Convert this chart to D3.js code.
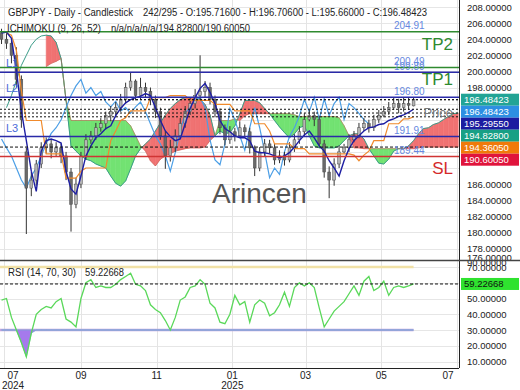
<!DOCTYPE html>
<html>
<head>
<meta charset="utf-8">
<title>GBPJPY Daily</title>
<script src="https://cdn.jsdelivr.net/npm/d3@7"></script>
<style>
  body { margin: 0; background: #ffffff; }
  svg { display: block; font-family: 'Liberation Sans', Arial, sans-serif; }
</style>
</head>
<body>
<svg id="chart" width="520" height="390"></svg>
<script>
// one bar every 4 calendar days
const firstDay = '2024-06-29';
const dayStep = 4;

const openPrices = [
  204.8, 204.0, 203.5, 202.0, 199.0, 190.0, 185.5, 186.5, 188.5, 190.5,
  191.0, 190.0, 190.5, 189.5, 187.5, 183.5, 186.0, 189.5, 191.5, 192.0,
  193.0, 193.5, 194.5, 195.0, 195.5, 196.5, 198.0, 198.8, 197.0, 198.0,
  197.5, 196.5, 195.0, 192.0, 189.5, 190.5, 192.0, 193.5, 195.0, 196.0,
  197.0, 197.5, 198.0, 196.5, 195.0, 193.0, 191.5, 192.5, 192.0, 193.0,
  192.5, 190.5, 188.0, 190.0, 191.0, 190.5, 189.0, 189.5, 189.0, 190.5,
  191.5, 192.5, 194.0, 194.5, 194.0, 191.0, 187.5, 186.5, 188.5, 190.0,
  190.5, 191.5, 192.0, 193.0, 193.5, 193.0, 194.0, 194.5, 195.0, 195.5,
  196.0, 195.5, 196.0, 195.716
];
const highPrices = [
  205.3, 204.8, 204.0, 203.0, 199.5, 190.5, 187.5, 189.0, 191.2, 191.8,
  191.6, 191.2, 191.0, 190.0, 188.0, 186.8, 190.0, 192.2, 192.6, 193.6,
  194.2, 195.0, 195.7, 196.2, 197.2, 198.6, 199.8, 199.0, 199.2, 198.6,
  198.0, 197.0, 195.5, 192.6, 191.5, 192.8, 194.2, 195.7, 196.8, 197.8,
  202.0, 198.8, 198.6, 197.0, 195.4, 193.4, 193.2, 193.0, 193.8, 193.4,
  193.0, 190.8, 190.6, 191.6, 191.5, 191.0, 190.2, 190.0, 191.2, 192.2,
  193.2, 194.8, 195.2, 195.0, 194.5, 191.5, 188.2, 189.2, 190.8, 191.0,
  192.2, 192.6, 193.6, 194.2, 194.0, 194.6, 195.2, 195.7, 196.2, 196.8,
  196.6, 196.7, 196.8, 196.706
];
const lowPrices = [
  203.4, 202.8, 201.0, 198.0, 193.0, 179.8, 184.5, 185.8, 188.0, 189.8,
  189.2, 189.5, 188.6, 186.5, 180.1, 183.0, 185.5, 189.0, 191.0, 191.5,
  192.5, 192.8, 193.8, 194.3, 195.0, 196.0, 197.6, 196.4, 196.5, 196.8,
  195.8, 194.2, 191.5, 187.9, 188.8, 190.0, 191.6, 193.0, 194.6, 195.4,
  196.4, 196.8, 195.9, 194.3, 192.2, 190.8, 191.0, 191.3, 191.8, 191.8,
  189.8, 187.0, 187.6, 189.5, 189.8, 188.4, 188.6, 188.3, 188.7, 190.0,
  191.0, 192.0, 193.8, 193.2, 190.5, 186.8, 184.25, 185.8, 188.0, 189.8,
  190.0, 191.2, 191.7, 192.6, 192.4, 192.6, 193.6, 194.3, 194.6, 195.2,
  194.8, 195.0, 195.2, 195.66
];
const closePrices = [
  204.0, 203.5, 202.0, 199.0, 194.0, 185.5, 186.5, 188.5, 190.5, 191.0,
  190.0, 190.5, 189.5, 187.5, 183.5, 186.0, 189.5, 191.5, 192.0, 193.0,
  193.5, 194.5, 195.0, 195.5, 196.5, 198.0, 198.8, 197.0, 198.0, 197.5,
  196.5, 195.0, 192.0, 189.5, 190.5, 192.0, 193.5, 195.0, 196.0, 197.0,
  197.5, 198.0, 196.5, 195.0, 193.0, 191.5, 192.5, 192.0, 193.0, 192.5,
  190.5, 188.0, 190.0, 191.0, 190.5, 189.0, 189.5, 189.0, 190.5, 191.5,
  192.5, 194.0, 194.5, 194.0, 191.0, 187.5, 186.5, 188.5, 190.0, 190.5,
  191.5, 192.0, 193.0, 193.5, 193.0, 194.0, 194.5, 195.0, 195.5, 196.0,
  195.5, 196.0, 195.8, 196.48423
];
const tenkan = [
  204.75, 204.9, 204.1, 200.1, 195.1, 191.4, 187.6, 185.1, 190.1, 191.4,
  191.6, 191.4, 191.1, 187.6, 185.4, 184.75, 187.0, 189.5, 190.75, 191.75,
  192.25, 192.9, 193.25, 194.5, 195.4, 196.1, 196.5, 196.75, 196.9, 197.25,
  197.0, 195.5, 193.9, 192.6, 191.9, 191.4, 191.6, 193.5, 195.4, 196.75,
  197.9, 198.5, 197.4, 196.0, 193.9, 192.9, 192.5, 192.0, 191.75, 191.75,
  191.4, 190.1, 189.9, 189.9, 189.75, 189.5, 189.25, 189.5, 189.9, 190.6,
  191.4, 192.1, 192.6, 191.75, 190.75, 190.1, 188.9, 188.0, 187.0, 188.9,
  190.4, 191.4, 192.0, 192.6, 193.0, 193.1, 193.4, 193.5, 193.9, 194.1,
  194.4, 194.6, 194.9, 195.2955
];
const kijun = [
  null, 204.75, 204.5, 202.6, 197.6, 193.9, 193.9, 193.9, 193.9, 189.75,
  189.75, 189.75, 189.75, 186.75, 186.75, 186.75, 187.6, 188.0, 188.0, 188.0,
  188.0, 188.0, 191.4, 192.6, 193.9, 194.25, 195.1, 195.1, 195.1, 195.1,
  196.75, 196.75, 196.75, 196.75, 197.0, 197.0, 197.0, 197.0, 196.4, 196.4,
  196.4, 196.4, 196.4, 195.9, 195.9, 195.9, 195.9, 195.1, 195.1, 195.1,
  195.1, 193.5, 193.5, 193.5, 192.6, 191.0, 191.0, 191.0, 191.0, 190.4,
  190.4, 190.4, 189.75, 189.75, 189.75, 189.75, 189.75, 189.75, 189.75, 189.75,
  189.75, 189.6, 188.9, 189.6, 190.1, 191.4, 191.4, 191.4, 193.5, 193.5,
  193.5, 194.1, 194.1, 194.3605
];
const chikou = [
  191.6, 190.5, 189.5, 188.0, 186.5, 185.5, 187.0, 188.0, 189.5, 191.0,
  192.3, 193.0, 194.0, 195.5, 197.0, 198.2, 199.0, 197.3, 198.0, 197.0,
  197.5, 196.2, 195.6, 196.3, 195.1, 195.5, 194.8, 195.6, 196.2, 195.0,
  193.5, 192.0, 191.0, 189.5, 187.6, 189.9, 192.6, 194.8, 195.6, 196.4,
  196.8, 195.5, 191.5, 189.0, 188.4, 191.0, 195.4, 194.0, 192.0, 190.2,
  193.0, 195.5, 193.0, 190.0, 186.8, 188.0, 187.2, 190.0, 191.9, 193.0,
  194.5, 196.5, 195.0, 196.8, 194.0, 196.6, 194.5, 196.0, 196.8, 194.0,
  196.0, 195.5, 194.8, 194.0, 193.5
];
const spanA = [
  null, 195.5, 197.0, 198.9, 200.75, 202.0, 203.25, 204.0, 204.4, 204.5,
  204.4, 203.6, 201.6, 196.4, 190.75, 190.1, 189.5, 189.1, 188.9, 188.5,
  188.25, 188.0, 187.0, 186.1, 185.75, 186.4, 187.9, 189.5, 190.4, 191.0,
  191.6, 192.6, 193.6, 194.6, 195.4, 196.0, 196.5, 196.75, 196.75, 196.75,
  196.5, 195.9, 194.6, 192.0, 192.6, 192.25, 192.4, 193.25, 194.75, 196.4,
  196.4, 196.4, 196.1, 195.4, 194.75, 193.9, 193.1, 192.4, 191.75, 192.25,
  193.0, 193.25, 192.0, 190.75, 190.5, 190.5, 190.5, 190.5, 190.75, 191.4,
  192.0, 192.25, 192.25, 191.6, 190.4, 189.5, 188.6, 188.5, 189.1, 190.1,
  190.4, 190.4, 190.75, 191.4, 192.25, 192.9, 193.0, 193.4, 193.6, 194.0,
  194.4, 194.75, 194.828
];
const spanB = [
  null, null, null, null, null, null, null, null, null, 200.6,
  201.0, 201.25, 201.6, 196.4, 193.9, 193.9, 193.9, 193.9, 193.9, 193.9,
  193.9, 193.9, 193.9, 193.9, 193.9, 193.9, 193.25, 192.0, 190.75, 190.1,
  188.9, 188.25, 189.1, 189.5, 189.75, 190.1, 190.25, 190.4, 190.5, 190.5,
  190.5, 190.6, 191.4, 192.0, 193.9, 193.9, 193.9, 194.1, 193.9, 194.5,
  194.75, 194.75, 194.75, 194.75, 194.75, 194.75, 194.75, 194.75, 194.75, 194.6,
  194.4, 194.4, 194.4, 194.4, 194.4, 194.4, 194.4, 194.4, 194.25, 193.25,
  192.0, 190.5, 190.5, 190.4, 190.4, 190.4, 190.4, 190.4, 190.4, 190.4,
  190.4, 190.4, 190.4, 190.4, 190.5, 190.6, 190.6, 190.6, 190.6, 190.6,
  190.6, 190.6, 190.6005
];
const rsi = [
  49, 50, 38, 30, 22, 13, 28, 40, 43, 45,
  44, 48, 50, 37, 35, 32, 50, 60, 62, 57,
  58, 57, 57, 59, 62, 64, 66, 59, 58, 55,
  46, 43, 41, 36, 30, 38, 49, 51, 57, 58,
  62, 59, 47, 44, 35, 34, 40, 52, 46, 48,
  35, 46, 49, 47, 39, 41, 46, 54, 45, 57,
  60, 58, 60, 57, 44, 32, 37, 42, 45, 48,
  53, 58, 52, 61, 64, 55, 57, 61, 52, 57,
  58, 57, 58, 59.22668
];

const levelNames = ['TP2', 'TP1', 'L1', 'L2', 'L3', 'SL'];
const levelValues = [204.91, 200.49, 199.89, 196.80, 191.91, 189.44];

const priceTicks = d3.range(176, 209, 2);
const rsiTicks = [10, 20, 30, 40, 50, 70, 90];
const rsiBands = [70, 30];

const titleText = 'GBPJPY - Daily - Candlestick';
const ohlcText = '242/295 - O:195.71600 - H:196.70600 - L:195.66000 - C:196.48423';
const ichimokuText = 'ICHIMOKU (9, 26, 52)';
const ichimokuValues = 'n/a/n/a/n/a/194.82800/190.60050';
const rsiText = 'RSI (14, 70, 30)';
const watermark = 'Arincen';

const plotW = 459;
const priceBottom = 260;
const rsiTop = 261;
const rsiBottom = 368;

const parseDay = d3.timeParse('%Y-%m-%d');
const dates = d3.range(spanA.length).map(function(i) { return d3.timeDay.offset(parseDay(firstDay), i * dayStep); });

const x = d3.scaleTime().domain([new Date(2024, 6, 1), new Date(2025, 6, 1)]).range([4, 457]);
const y = d3.scaleLinear().domain([208, 178]).range([7, 248.5]);
const ry = d3.scaleLinear().domain([70, 30]).range([267, 330]);

const svg = d3.select('#chart');
const defs = svg.append('defs');
defs.append('clipPath').attr('id', 'priceClip')
  .append('rect').attr('x', 0).attr('y', 0).attr('width', plotW).attr('height', priceBottom);
defs.append('clipPath').attr('id', 'rsiClip')
  .append('rect').attr('x', 0).attr('y', rsiTop).attr('width', plotW).attr('height', rsiBottom - rsiTop);
defs.append('clipPath').attr('id', 'rsiAxisClip')
  .append('rect').attr('x', plotW + 1).attr('y', rsiTop).attr('width', 60).attr('height', 129);

const months = d3.timeMonth.every(2).range(new Date(2024, 6, 1), new Date(2025, 6, 2));

// ---------- price panel ----------
const price = svg.append('g').attr('clip-path', 'url(#priceClip)');

price.append('g').selectAll('line').data(priceTicks).join('line')
  .attr('x1', 0).attr('x2', plotW)
  .attr('y1', function(d) { return Math.round(y(d)) + 0.5; })
  .attr('y2', function(d) { return Math.round(y(d)) + 0.5; })
  .attr('stroke', '#e6e6e6');

price.append('g').selectAll('line').data(months).join('line')
  .attr('x1', function(d) { return Math.round(x(d)) + 0.5; })
  .attr('x2', function(d) { return Math.round(x(d)) + 0.5; })
  .attr('y1', 0).attr('y2', priceBottom)
  .attr('stroke', '#e4e4e4');

// kumo cloud, coloured per segment
const cloud = price.append('g');
const redCloud = '#f07272';
const greenCloud = '#72e272';
function poly(points, color) {
  cloud.append('polygon')
    .attr('points', points.map(function(p) { return p.join(','); }).join(' '))
    .attr('fill', color)
    .attr('stroke', color)
    .attr('stroke-width', 0.6);
}
for (let i = 0; i < dates.length - 1; i++) {
  const a0 = spanA[i], b0 = spanB[i], a1 = spanA[i + 1], b1 = spanB[i + 1];
  if (a0 == null || b0 == null || a1 == null || b1 == null) continue;
  const x0 = x(dates[i]), x1 = x(dates[i + 1]);
  const d0 = a0 - b0, d1 = a1 - b1;
  if (d0 * d1 >= 0) {
    poly([[x0, y(a0)], [x1, y(a1)], [x1, y(b1)], [x0, y(b0)]], (d0 + d1) > 0 ? redCloud : greenCloud);
  } else {
    const t = d0 / (d0 - d1);
    const xc = x0 + t * (x1 - x0);
    const yc = y(a0 + t * (a1 - a0));
    poly([[x0, y(a0)], [xc, yc], [x0, y(b0)]], d0 > 0 ? redCloud : greenCloud);
    poly([[xc, yc], [x1, y(a1)], [x1, y(b1)]], d1 > 0 ? redCloud : greenCloud);
  }
}

function seriesLine(values) {
  return d3.line()
    .defined(function(d) { return d != null; })
    .x(function(d, i) { return x(dates[i]); })
    .y(function(d) { return y(d); })(values);
}

price.append('path').attr('d', seriesLine(spanA))
  .attr('fill', 'none').attr('stroke', '#3a9c88').attr('stroke-width', 1);
price.append('path').attr('d', seriesLine(spanB))
  .attr('fill', 'none').attr('stroke', '#c25a50').attr('stroke-width', 0.8).attr('opacity', 0.7);

price.append('path').attr('d', seriesLine(chikou))
  .attr('fill', 'none').attr('stroke', '#4c9fe6').attr('stroke-width', 1.2);

// candles
const candles = closePrices.map(function(c, i) {
  return { date: dates[i], o: openPrices[i], h: highPrices[i], l: lowPrices[i], c: c };
});
const cg = price.append('g');
cg.selectAll('line').data(candles).join('line')
  .attr('x1', function(d) { return x(d.date); })
  .attr('x2', function(d) { return x(d.date); })
  .attr('y1', function(d) { return y(d.h); })
  .attr('y2', function(d) { return y(d.l); })
  .attr('stroke', '#333')
  .attr('stroke-width', 1);
cg.selectAll('rect').data(candles).join('rect')
  .attr('x', function(d) { return x(d.date) - 1.4; })
  .attr('width', 2.8)
  .attr('y', function(d) { return y(Math.max(d.o, d.c)); })
  .attr('height', function(d) { return Math.max(1, Math.abs(y(d.o) - y(d.c))); })
  .attr('fill', function(d) { return d.c >= d.o ? '#b5b5b5' : '#6a6a6a'; })
  .attr('stroke', '#4a4a4a')
  .attr('stroke-width', 0.5);

price.append('path').attr('d', seriesLine(kijun))
  .attr('fill', 'none').attr('stroke', '#f08a2c').attr('stroke-width', 1.2);
price.append('path').attr('d', seriesLine(tenkan))
  .attr('fill', 'none').attr('stroke', '#1e1ea2').attr('stroke-width', 1.4);

// last-value markers (close, chikou, tenkan, span A, kijun, span B)
const markers = [
  { v: closePrices[closePrices.length - 1], color: '#22a495' },
  { v: closePrices[closePrices.length - 1], color: '#2d8fe2' },
  { v: tenkan[tenkan.length - 1], color: '#1c1ca0' },
  { v: spanA[spanA.length - 1], color: '#17a085' },
  { v: kijun[kijun.length - 1], color: '#f07a0a' },
  { v: spanB[spanB.length - 1], color: '#e0143c' }
];

price.append('g').selectAll('line').data(markers).join('line')
  .attr('x1', 0).attr('x2', plotW)
  .attr('y1', function(d) { return y(d.v); })
  .attr('y2', function(d) { return y(d.v); })
  .attr('stroke', '#111')
  .attr('stroke-width', 1)
  .attr('stroke-dasharray', function(d, i) { return i === markers.length - 1 ? '3,2' : '2,2'; });

// trade levels
const levelColor = { TP2: '#2f8a2f', TP1: '#2f8a2f', L1: '#2a2aa8', L2: '#2a2aa8', L3: '#2a2aa8', SL: '#d03434' };
const levels = levelNames.map(function(n, i) { return { name: n, v: levelValues[i] }; });

price.append('g').selectAll('line').data(levels).join('line')
  .attr('x1', 0).attr('x2', plotW)
  .attr('y1', function(d) { return y(d.v); })
  .attr('y2', function(d) { return y(d.v); })
  .attr('stroke', function(d) { return levelColor[d.name]; })
  .attr('stroke-width', 1.5);

price.append('g').selectAll('text').data(levels).join('text')
  .attr('x', 394)
  .attr('y', function(d) { return y(d.v) - 2.5; })
  .attr('font-size', 10)
  .attr('fill', '#6688e0')
  .text(function(d) { return d.v.toFixed(2); });

price.append('g').selectAll('text').data(levels.filter(function(d) { return d.name[0] !== 'L'; })).join('text')
  .attr('x', 453)
  .attr('y', function(d) { return y(d.v) + 18; })
  .attr('text-anchor', 'end')
  .attr('font-size', 17)
  .attr('fill', function(d) { return d.name === 'SL' ? '#d42a2a' : '#2f8a2f'; })
  .text(function(d) { return d.name; });

price.append('g').selectAll('text').data(levels.filter(function(d) { return d.name[0] === 'L'; })).join('text')
  .attr('x', 6)
  .attr('y', function(d) { return y(d.v) - 5; })
  .attr('font-size', 11)
  .attr('fill', '#4a6ad8')
  .text(function(d) { return d.name; });

price.append('text')
  .attr('x', 453)
  .attr('y', y(closePrices[closePrices.length - 1]) + 17)
  .attr('text-anchor', 'end')
  .attr('font-size', 13)
  .attr('fill', '#7a7a7a')
  .text('Price');

svg.append('text')
  .attr('x', 212).attr('y', 203)
  .attr('font-size', 28)
  .attr('fill', '#555')
  .text(watermark);

// header
svg.append('text').attr('x', 8).attr('y', 16).attr('font-size', 10).attr('fill', '#222')
  .attr('textLength', 125).attr('lengthAdjust', 'spacingAndGlyphs').text(titleText);
svg.append('text').attr('x', 143).attr('y', 16).attr('font-size', 10).attr('fill', '#222')
  .attr('textLength', 284).attr('lengthAdjust', 'spacingAndGlyphs').text(ohlcText);
svg.append('text').attr('x', 7).attr('y', 32).attr('font-size', 10).attr('fill', '#222')
  .attr('textLength', 94).attr('lengthAdjust', 'spacingAndGlyphs').text(ichimokuText);
svg.append('text').attr('x', 111).attr('y', 32).attr('font-size', 10).attr('fill', '#222')
  .attr('textLength', 139).attr('lengthAdjust', 'spacingAndGlyphs').text(ichimokuValues);

// ---------- RSI panel ----------
const rp = svg.append('g').attr('clip-path', 'url(#rsiClip)');
const lastX = x(dates[rsi.length - 1]);

rp.append('g').selectAll('line').data(d3.range(10, 100, 10)).join('line')
  .attr('x1', 0).attr('x2', plotW)
  .attr('y1', function(d) { return Math.round(ry(d)) + 0.5; })
  .attr('y2', function(d) { return Math.round(ry(d)) + 0.5; })
  .attr('stroke', '#e6e6e6');
rp.append('g').selectAll('line').data(months).join('line')
  .attr('x1', function(d) { return Math.round(x(d)) + 0.5; })
  .attr('x2', function(d) { return Math.round(x(d)) + 0.5; })
  .attr('y1', rsiTop).attr('y2', rsiBottom)
  .attr('stroke', '#e4e4e4');

rp.append('g').selectAll('line').data(rsiBands).join('line')
  .attr('x1', 0).attr('x2', lastX)
  .attr('y1', function(d) { return ry(d); })
  .attr('y2', function(d) { return ry(d); })
  .attr('stroke', function(d) { return d === 70 ? '#f1e1a6' : '#c3a3de'; })
  .attr('stroke-width', 2.5);

const oversold = d3.area()
  .x(function(d, i) { return x(dates[i]); })
  .y0(ry(30))
  .y1(function(d) { return ry(Math.min(d, 30)); });
rp.append('path').attr('d', oversold(rsi))
  .attr('fill', '#a57aec').attr('stroke', '#7aa6d8').attr('stroke-width', 0.8);

rp.append('path')
  .attr('d', d3.line().x(function(d, i) { return x(dates[i]); }).y(function(d) { return ry(d); })(rsi))
  .attr('fill', 'none').attr('stroke', '#5ad85a').attr('stroke-width', 1.3);

const rsiLast = rsi[rsi.length - 1];
rp.append('line')
  .attr('x1', 0).attr('x2', plotW)
  .attr('y1', ry(rsiLast)).attr('y2', ry(rsiLast))
  .attr('stroke', '#111').attr('stroke-dasharray', '3,2');

svg.append('text').attr('x', 8).attr('y', 276).attr('font-size', 10).attr('fill', '#222')
  .attr('textLength', 68).attr('lengthAdjust', 'spacingAndGlyphs').text(rsiText);
svg.append('text').attr('x', 85).attr('y', 276).attr('font-size', 10).attr('fill', '#222')
  .attr('textLength', 39).attr('lengthAdjust', 'spacingAndGlyphs').text(rsiLast.toFixed(5));

// ---------- frame and axes ----------
svg.append('line').attr('x1', plotW + 0.5).attr('x2', plotW + 0.5).attr('y1', 0).attr('y2', rsiBottom)
  .attr('stroke', '#222');
svg.append('line').attr('x1', 0).attr('x2', plotW).attr('y1', rsiBottom + 0.5).attr('y2', rsiBottom + 0.5)
  .attr('stroke', '#222');

// stacked value boxes on the axis
const boxes = [];
let prevY = -Infinity;
markers.forEach(function(m) {
  const cy = Math.max(y(m.v), prevY + 12);
  prevY = cy;
  boxes.push({ cy: cy, v: m.v, color: m.color });
});
const boxTop = boxes[0].cy - 6;
const boxBottom = boxes[boxes.length - 1].cy + 6;

svg.append('g').selectAll('text')
  .data(priceTicks.filter(function(d) { return y(d) + 4 < boxTop || y(d) - 4 > boxBottom; }))
  .join('text')
  .attr('x', 467)
  .attr('y', function(d) { return Math.min(257, y(d)) + 3.5; })
  .attr('font-size', 9.5)
  .attr('fill', '#222')
  .text(function(d) { return d.toFixed(5); });

svg.append('g').attr('clip-path', 'url(#rsiAxisClip)').selectAll('text').data(rsiTicks).join('text')
  .attr('x', 467)
  .attr('y', function(d) { return Math.max(262, Math.min(362, ry(d))) + 3.5; })
  .attr('font-size', 9.5)
  .attr('fill', '#222')
  .text(function(d) { return d.toFixed(5); });

svg.append('line').attr('x1', 0).attr('x2', 520).attr('y1', priceBottom + 0.5).attr('y2', priceBottom + 0.5)
  .attr('stroke', '#444').attr('stroke-width', 1.5);

boxes.forEach(function(b) {
  svg.append('rect').attr('x', 461).attr('y', b.cy - 6).attr('width', 58).attr('height', 12)
    .attr('fill', b.color);
  svg.append('text').attr('x', 464).attr('y', b.cy + 3.5).attr('font-size', 9.5)
    .attr('fill', '#fff').text(b.v.toFixed(5));
});
svg.append('rect').attr('x', 461).attr('y', ry(rsiLast) - 6).attr('width', 58).attr('height', 12)
  .attr('fill', '#2fe22f');
svg.append('text').attr('x', 464).attr('y', ry(rsiLast) + 3.5).attr('font-size', 9.5)
  .attr('fill', '#111').text(rsiLast.toFixed(5));

// time axis
const fmtMonth = d3.timeFormat('%m');
const xl = svg.append('g');
months.forEach(function(d, i) {
  const px = Math.max(13, Math.min(448, x(d)));
  xl.append('text').attr('x', px).attr('y', 379).attr('text-anchor', 'middle')
    .attr('font-size', 10).attr('fill', '#222').text(fmtMonth(d));
  if (i === 0 || d.getMonth() === 0) {
    xl.append('text').attr('x', px).attr('y', 389).attr('text-anchor', 'middle')
      .attr('font-size', 10).attr('fill', '#222').text(d.getFullYear());
  }
});
</script>
</body>
</html>
